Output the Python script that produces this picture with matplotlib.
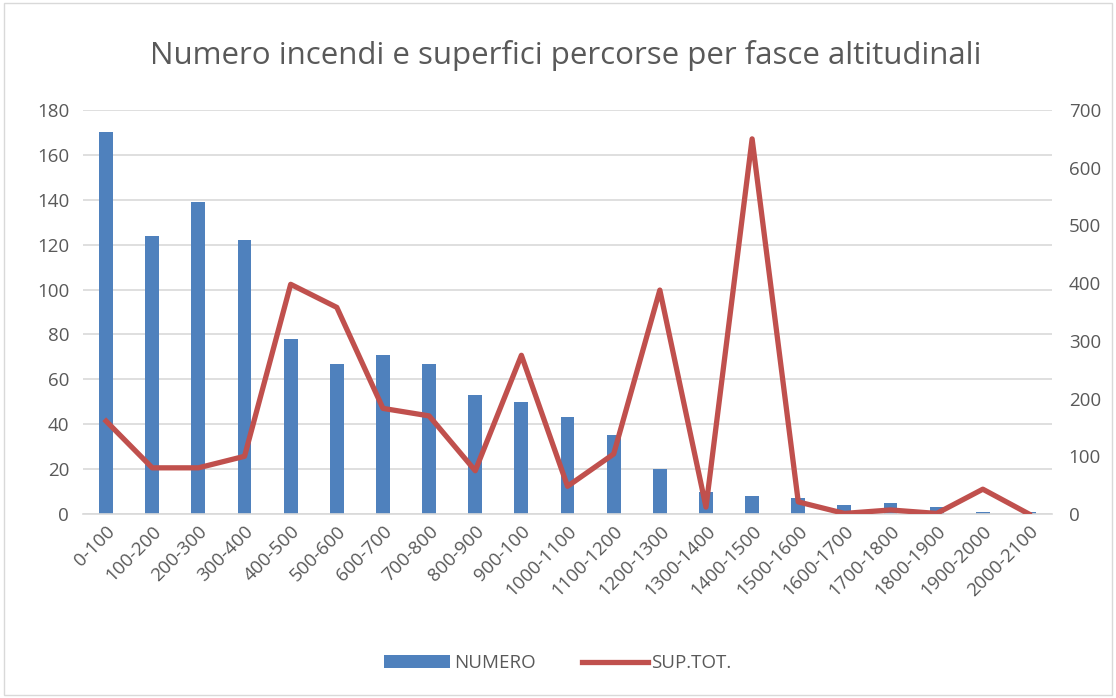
import matplotlib
matplotlib.use("Agg")
import matplotlib.pyplot as plt
from matplotlib.patches import Rectangle

categories = ["0-100", "100-200", "200-300", "300-400", "400-500", "500-600", "600-700",
              "700-800", "800-900", "900-100", "1000-1100", "1100-1200", "1200-1300",
              "1300-1400", "1400-1500", "1500-1600", "1600-1700", "1700-1800", "1800-1900",
              "1900-2000", "2000-2100"]
numero = [170, 124, 139, 122, 78, 67, 71, 67, 53, 50, 43, 35, 20, 10, 8, 7, 4, 5, 3, 1, 1]
sup_tot = [161, 80, 80, 100, 398, 358, 183, 170, 75, 275, 48, 104, 388, 12, 650, 21, 1, 7, 1, 43, 0]
left_ticks = list(range(0, 181, 20))
right_ticks = list(range(0, 701, 100))

plt.rcParams['font.family'] = ['Open Sans', 'DejaVu Sans']
txt = '#595959'
fig = plt.figure(figsize=(11.16, 6.98), dpi=100)
fig.patches.append(Rectangle((0.004, 0.004), 0.992, 0.992, transform=fig.transFigure,
                             fill=False, edgecolor='#d9d9d9', linewidth=1))
ax = fig.add_axes([0.0744, 0.2636, 0.8683, 0.5788])
x = list(range(len(categories)))
ax.bar(x, numero, width=0.3, color='#4f81bd', zorder=2, label='NUMERO')
ax.set_xlim(-0.5, len(categories) - 0.5)
ax.set_ylim(0, 180)
ax.set_yticks(left_ticks)
ax.grid(axis='y', color='#d9d9d9', linewidth=1.2, zorder=0)
ax.set_axisbelow(True)
for s in ['top', 'right', 'left']:
    ax.spines[s].set_visible(False)
ax.spines['bottom'].set_color('#d9d9d9')
ax.spines['bottom'].set_linewidth(1.2)
ax.tick_params(axis='both', length=0, colors=txt, labelsize=13.5)
ax.set_xticks(x)
ax.set_xticklabels(categories, rotation=45, ha='right', rotation_mode='anchor')
ax.tick_params(axis='x', pad=6)
ax.tick_params(axis='y', pad=10)

ax2 = ax.twinx()
ax2.plot(x, sup_tot, color='#c0504d', linewidth=3.8, solid_joinstyle='round', zorder=3, label='SUP.TOT.')
ax2.set_ylim(0, 700)
ax2.set_yticks(right_ticks)
for s in ax2.spines.values():
    s.set_visible(False)
ax2.tick_params(axis='y', length=0, colors=txt, labelsize=13.5, pad=12)

fig.text(0.507, 0.921, 'Numero incendi e superfici percorse per fasce altitudinali',
         ha='center', va='center', fontsize=22.5, color=txt)

h1, l1 = ax.get_legend_handles_labels()
h2, l2 = ax2.get_legend_handles_labels()
leg = fig.legend(h1 + h2, l1 + l2, loc='center', bbox_to_anchor=(0.5, 0.05), ncol=2,
                 frameon=False, fontsize=13.5, handlelength=3.5, handletextpad=0.2,
                 columnspacing=2.5)
for t in leg.get_texts():
    t.set_color(txt)
fig.savefig('out.png', dpi=100)
